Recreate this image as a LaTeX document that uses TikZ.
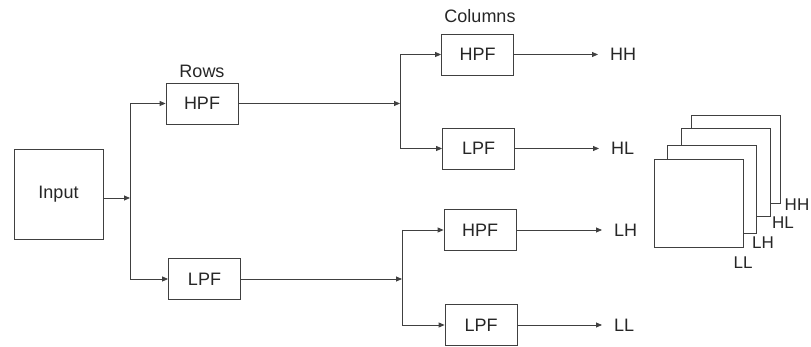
\documentclass[tikz,border=0pt]{standalone}
\usepackage{fontspec}
\setmainfont{Liberation Sans}
\usetikzlibrary{arrows.meta,positioning}
\tikzstyle{block}=[draw=black!75,line width=0.8pt,fill=white,inner sep=0pt,text=black!85,font=\fontsize{18}{20}\selectfont]
\tikzstyle{filter}=[block,minimum width=72pt,minimum height=41pt]
\tikzstyle{layer}=[draw=black!75,line width=0.8pt,fill=white,minimum width=89pt,minimum height=88pt,inner sep=0pt]
\tikzstyle{edge} = [draw,black!75,line width=0.8pt,-{Triangle[length=6pt,width=5pt]}]
\tikzstyle{undirectededge} = [draw,black!75,line width=0.8pt]
\tikzstyle{label} = [text=black!85,font=\fontsize{18}{20}\selectfont,inner sep=0pt]
\tikzstyle{sublabel} = [text=black!85,font=\fontsize{17}{19}\selectfont,inner sep=0pt]

\begin{document}
\begin{tikzpicture}[x=1pt,y=-1pt]
  \useasboundingbox (0,0) rectangle (811,347);

  % input and first stage (rows)
  \node[block,minimum width=89pt,minimum height=90pt] (input) at (58.5,194) {Input};
  \foreach \pos/\name/\txt in {{(202,103.5)/rh/HPF}, {(204.5,279)/rl/LPF}}
    \node[filter] (\name) at \pos {\txt};
  \node[label] (rows) at (202,71) {Rows};

  % second stage (columns)
  \foreach \pos/\name/\txt in {{(477.5,54.5)/hh/HPF}, {(478.5,148.5)/hl/LPF}, {(480,230)/lh/HPF}, {(481,325)/ll/LPF}}
    \node[filter] (\name) at \pos {\txt};
  \node[label] (cols) at (480,16) {Columns};

  % split points
  \coordinate (s0) at (130,198);
  \coordinate (s0t) at (130,103.5);
  \coordinate (s0b) at (130,279);
  \coordinate (s1) at (400,103.5);
  \coordinate (s1t) at (400,54.5);
  \coordinate (s1b) at (400,148.5);
  \coordinate (s2) at (402,279);
  \coordinate (s2t) at (402,230);
  \coordinate (s2b) at (402,325);

  \path[edge] (input.east |- s0) -- (s0);
  \path[undirectededge] (s0t) -- (s0b);
  \path[edge] (rh.east) -- (s1);
  \path[undirectededge] (s1t) -- (s1b);
  \path[edge] (rl.east) -- (s2);
  \path[undirectededge] (s2t) -- (s2b);

  \foreach \source/\dest in {s0t/rh, s0b/rl, s1t/hh, s1b/hl, s2t/lh, s2b/ll}
    \path[edge] (\source) -- (\dest.west);

  % outputs
  \foreach \name/\txt/\xe in {hh/HH/598, hl/HL/599, lh/LH/602, ll/LL/602}
  {
    \coordinate (\name e) at (\xe,0 |- \name.east);
    \path[edge] (\name.east) -- (\name e);
    \node[label,anchor=west] (\name o) at ([xshift=12pt]\name e) {\txt};
  }

  % stacked sub-bands
  \foreach \pos/\name in {{(735.5,159)/bhh}, {(725.5,172.5)/bhl}, {(712,189.5)/blh}, {(698.5,203)/bll}}
    \node[layer] (\name) at \pos {};
  \foreach \pos/\name/\txt in {{(743,263)/tll/LL}, {(763,243)/tlh/LH}, {(783,223)/thl/HL}, {(797,205)/thh/HH}}
    \node[sublabel] (\name) at \pos {\txt};

\end{tikzpicture}
\end{document}
